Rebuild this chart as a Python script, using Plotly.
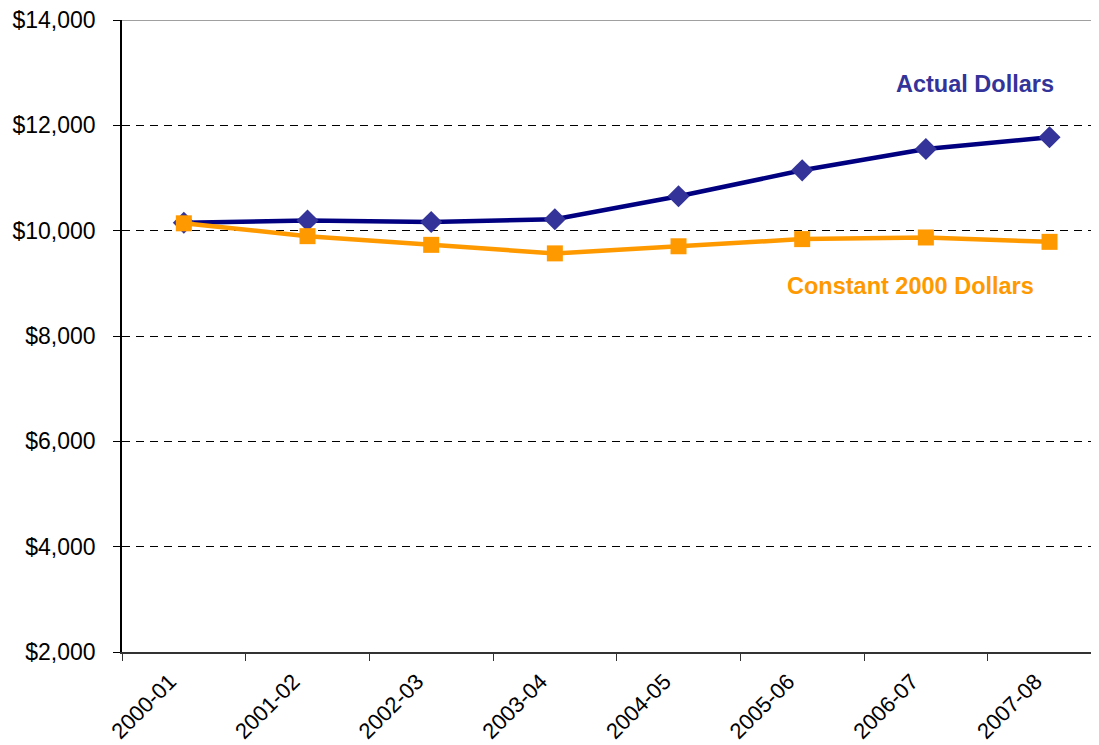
import plotly.graph_objects as go

years = ["2000-01", "2001-02", "2002-03", "2003-04", "2004-05", "2005-06", "2006-07", "2007-08"]
actual = [10150, 10192, 10166, 10217, 10654, 11146, 11550, 11775]
constant = [10140, 9896, 9731, 9569, 9704, 9840, 9871, 9788]
y_ticks = [2000, 4000, 6000, 8000, 10000, 12000, 14000]
y_tick_text = ["$2,000", "$4,000", "$6,000", "$8,000", "$10,000", "$12,000", "$14,000"]

FONT = "Liberation Sans, Arial, sans-serif"

fig = go.Figure()
fig.add_trace(go.Scatter(
    x=years, y=actual, mode="lines+markers", name="Actual Dollars",
    line=dict(color="#000080", width=4.5),
    marker=dict(symbol="diamond", size=17, color="#333399"),
    cliponaxis=False,
))
fig.add_trace(go.Scatter(
    x=years, y=constant, mode="lines+markers", name="Constant 2000 Dollars",
    line=dict(color="#FF9900", width=4.5),
    marker=dict(symbol="square", size=16, color="#FF9900"),
    cliponaxis=False,
))

fig.add_annotation(x=6.4, y=12790, xref="x", yref="y", text="<b>Actual Dollars</b>",
                   showarrow=False, font=dict(family=FONT, size=23.5, color="#333399"))
fig.add_annotation(x=5.875, y=8942, xref="x", yref="y", text="<b>Constant 2000 Dollars</b>",
                   showarrow=False, font=dict(family=FONT, size=23.5, color="#FF9900"))

fig.add_shape(type="line", xref="paper", yref="y", x0=0, x1=1, y0=14000, y1=14000,
              line=dict(color="#A0A0A0", width=2))

# page body has an 8px margin; shrink/offset the figure to compensate
fig.update_layout(
    width=1091, height=737,
    margin=dict(l=114, r=0, t=12, b=93),
    paper_bgcolor="white", plot_bgcolor="white",
    showlegend=False,
    font=dict(family=FONT, size=22, color="black"),
)
fig.update_xaxes(
    type="category", range=[-0.5, 7.40],
    tickson="boundaries", ticks="outside", ticklen=7, tickcolor="#333333",
    tickangle=-45, showgrid=False,
    ticklabelshift=-14, ticklabelstandoff=6,
    showline=True, linecolor="#333333", linewidth=2,
    tickfont=dict(family=FONT, size=22, color="black"),
)
fig.update_yaxes(
    range=[2000, 14000.5], tickvals=y_ticks, ticktext=y_tick_text,
    ticks="outside", ticklen=7, tickcolor="black",
    ticklabelstandoff=13, ticklabeloverflow="allow",
    showline=True, linecolor="black", linewidth=1.5,
    showgrid=True, gridcolor="black", gridwidth=1, griddash="8px,6px",
    zeroline=False,
    tickfont=dict(family=FONT, size=23, color="black"),
)

fig.write_html("out.html")
